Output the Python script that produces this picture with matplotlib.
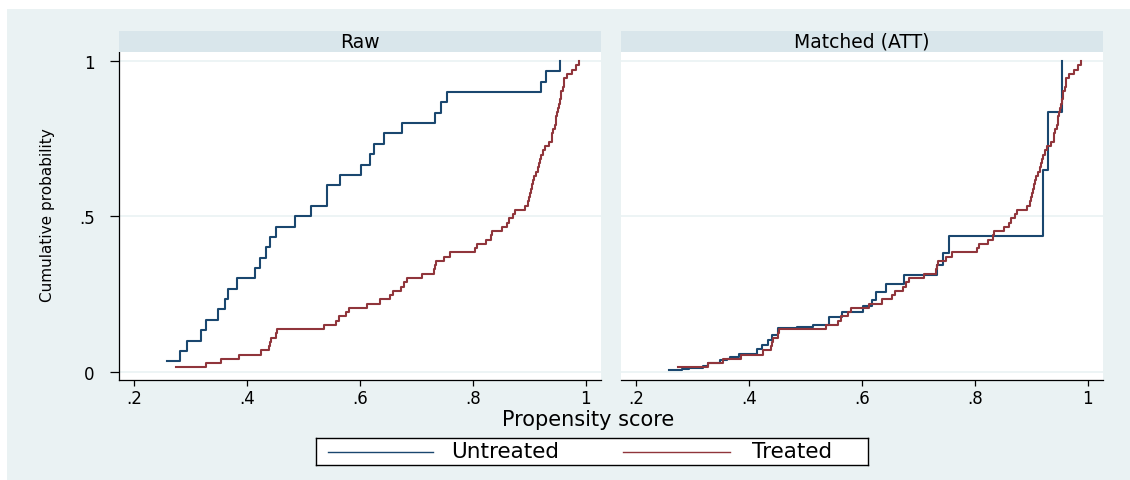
import numpy as np
import matplotlib.pyplot as plt
from matplotlib.patches import Rectangle

# propensity scores
untreated_ps = [0.2585, 0.281, 0.294, 0.318, 0.328, 0.349, 0.360, 0.367, 0.382, 0.414,
                0.423, 0.434, 0.440, 0.451, 0.484, 0.513, 0.541, 0.541, 0.564, 0.602,
                0.618, 0.624, 0.643, 0.675, 0.732, 0.744, 0.754, 0.9215, 0.929, 0.955]

treated_ps = [0.2734, 0.3277, 0.353, 0.385, 0.4242, 0.4395, 0.4405, 0.4425, 0.4515, 0.4526,
              0.536, 0.558, 0.5625, 0.5755, 0.5797, 0.6122, 0.6346, 0.6536, 0.6583, 0.6725,
              0.6778, 0.6832, 0.7098, 0.731, 0.732, 0.734, 0.7493, 0.760, 0.8038, 0.8073,
              0.824, 0.8325, 0.8335, 0.852, 0.860, 0.8647, 0.8705, 0.8754, 0.893, 0.8978,
              0.900, 0.902, 0.903, 0.905, 0.907, 0.908, 0.912, 0.915, 0.918, 0.919,
              0.920, 0.924, 0.927, 0.934, 0.940, 0.941, 0.9415, 0.9448, 0.9475, 0.948,
              0.9495, 0.951, 0.953, 0.954, 0.956, 0.957, 0.960, 0.961, 0.962, 0.966,
              0.976, 0.9825, 0.988]

# ATT matching weights for the untreated (same order as untreated_ps)
matched_weights = [0.0055, 0.0042, 0.0023, 0.007, 0.0095, 0.0091, 0.0034, 0.006, 0.011, 0.014,
                   0.015, 0.014, 0.017, 0.0215, 0.0055, 0.006, 0.014, 0.012, 0.016, 0.018,
                   0.020, 0.025, 0.025, 0.030, 0.032, 0.040, 0.054, 0.2116, 0.1884, 0.163]

panel_titles = ["Raw", "Matched (ATT)"]
x_ticks = [0.2, 0.4, 0.6, 0.8, 1.0]
x_ticklabels = [".2", ".4", ".6", ".8", "1"]
y_ticks = [0, 0.5, 1]
y_ticklabels = ["0", ".5", "1"]

BLUE = "#1a476f"
RED = "#90353b"
BG = "#eaf2f3"
STRIP = "#d9e6eb"


def ecdf(values, weights=None):
    values = np.asarray(values)
    if weights is None:
        weights = np.ones(len(values))
    order = np.argsort(values, kind="stable")
    w = np.asarray(weights, dtype=float)[order]
    return values[order], np.cumsum(w) / w.sum()


W, H = 1130, 481
fig = plt.figure(figsize=(W / 100, H / 100), dpi=100, facecolor="white")
fig.patches.append(Rectangle((7 / W, 0), 1 - 7 / W, 1 - 9.5 / H,
                             transform=fig.transFigure, facecolor=BG,
                             edgecolor="none", zorder=-10))


def px_rect(x0, y0, x1, y1):
    return [x0 / W, 1 - y1 / H, (x1 - x0) / W, (y1 - y0) / H]


ax_raw = fig.add_axes(px_rect(119, 53, 601, 381))
ax_att = fig.add_axes(px_rect(621, 53, 1103, 381))

for ax, title, x0, x1 in [(ax_raw, panel_titles[0], 119, 601),
                          (ax_att, panel_titles[1], 621, 1103)]:
    ax.set_facecolor("white")
    ax.set_xlim(0.173, 1.027)
    ax.set_ylim(-0.027, 1.029)
    ax.set_xticks(x_ticks)
    ax.set_xticklabels(x_ticklabels, fontsize=12)
    ax.set_yticks(y_ticks)
    ax.set_yticklabels(y_ticklabels, fontsize=12)
    ax.yaxis.grid(True, color=BG, lw=1.2)
    ax.set_axisbelow(True)
    for s in ["top", "right"]:
        ax.spines[s].set_visible(False)
    ax.spines["bottom"].set_linewidth(0.9)
    ax.spines["left"].set_linewidth(0.9)
    ax.tick_params(axis="x", direction="out", length=4.3, width=0.9, pad=2.5)
    ax.tick_params(axis="y", direction="out", length=6.5, width=0.9, pad=11)

    strip = fig.add_axes(px_rect(x0, 32, x1, 53))
    strip.set_facecolor(STRIP)
    strip.set_xticks([])
    strip.set_yticks([])
    for s in strip.spines.values():
        s.set_visible(False)
    strip.text(0.5, 0.5, title, ha="center", va="center", fontsize=13.5,
               transform=strip.transAxes)

ax_att.spines["left"].set_visible(False)
ax_att.tick_params(axis="y", left=False, labelleft=False)

# raw ECDFs
ux, uy = ecdf(untreated_ps)
tx, ty = ecdf(treated_ps)
ax_raw.step(ux, uy, where="post", color=BLUE, lw=1.5)
ax_raw.step(tx, ty, where="post", color=RED, lw=1.5)

# matched ECDFs (treated unchanged under ATT)
mx, my = ecdf(untreated_ps, matched_weights)
ax_att.step(mx, my, where="post", color=BLUE, lw=1.5)
ax_att.step(tx, ty, where="post", color=RED, lw=1.5)

fig.text(588 / W, 1 - 420 / H, "Propensity score", ha="center", va="center", fontsize=15)
fig.text(48 / W, 1 - 215 / H, "Cumulative probability", ha="center", va="center",
         rotation=90, fontsize=11)

# legend box
lax = fig.add_axes(px_rect(316, 439, 868, 466))
lax.set_xlim(316, 868)
lax.set_ylim(466, 439)
lax.set_facecolor("white")
lax.set_xticks([])
lax.set_yticks([])
for s in lax.spines.values():
    s.set_linewidth(1)
    s.set_color("black")
lax.plot([328, 433], [452.5, 452.5], color=BLUE, lw=1)
lax.text(451, 452.5, "Untreated", ha="left", va="center", fontsize=15.5)
lax.plot([623, 730], [452.5, 452.5], color=RED, lw=1)
lax.text(752, 452.5, "Treated", ha="left", va="center", fontsize=15.5)

fig.savefig("out.png", dpi=100, facecolor=fig.get_facecolor())
